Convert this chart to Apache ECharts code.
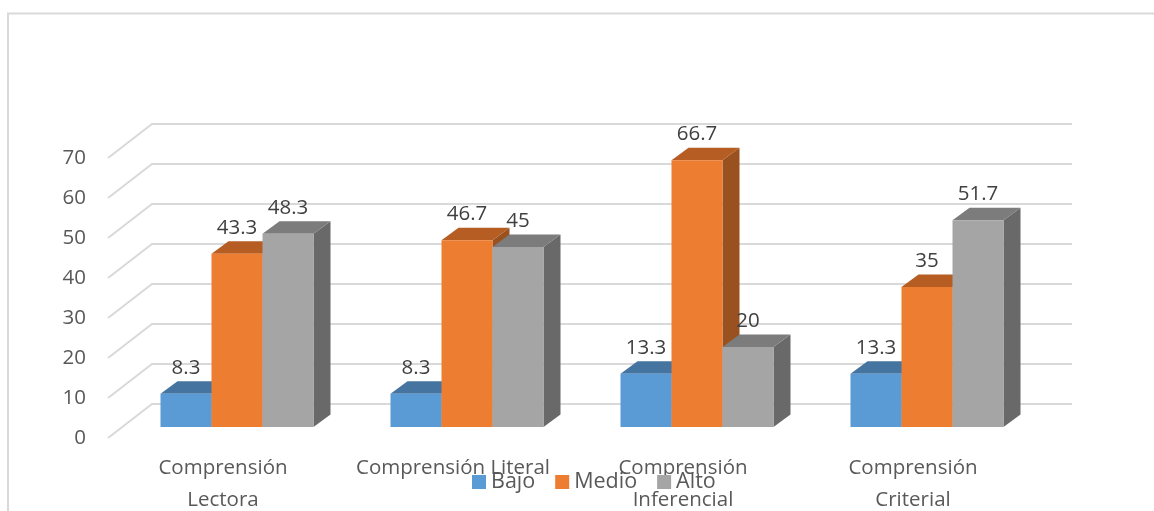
<!DOCTYPE html>
<html>
<head>
<meta charset="utf-8">
<style>html,body{margin:0;padding:0;background:#fff}#c{width:1154px;height:511px}</style>
<script src="https://cdn.jsdelivr.net/npm/echarts@6/dist/echarts.min.js"></script>
</head>
<body>
<div id="c"></div>
<script>
const categories = ['Comprensión\nLectora', 'Comprensión Literal', 'Comprensión\nInferencial', 'Comprensión\nCriterial'];
const bajo = [8.3, 8.3, 13.3, 13.3];
const medio = [43.3, 46.7, 66.7, 35];
const alto = [48.3, 45, 20, 51.7];
const yTicks = [0, 10, 20, 30, 40, 50, 60, 70];

const FONT = '"Open Sans", sans-serif';
const WALL = { dx: 44, dy: -34 };
const PLANE = { dx: 14, dy: -11 };
const DEPTH = { dx: 17, dy: -12.5 };
const BAR_W = 51;

function barSeries(name, values, idx, front, top, side) {
  return {
    name, type: 'custom', coordinateSystem: 'cartesian2d', z: 3 + idx,
    itemStyle: { color: front }, silent: true,
    data: values.map((v, i) => [i, v]),
    encode: { x: 0, y: 1 },
    renderItem(params, api) {
      const p = api.coord([api.value(0), api.value(1)]);
      const b = api.coord([api.value(0), 0]);
      const x0 = p[0] + PLANE.dx + (idx - 1.5) * BAR_W;
      const x1 = x0 + BAR_W;
      const yt = p[1] + PLANE.dy, yb = b[1] + PLANE.dy;
      const d = DEPTH;
      return { type: 'group', children: [
        { type: 'polygon', shape: { points: [[x1, yt], [x1 + d.dx, yt + d.dy], [x1 + d.dx, yb + d.dy], [x1, yb]] }, style: { fill: side } },
        { type: 'polygon', shape: { points: [[x0, yt], [x0 + d.dx, yt + d.dy], [x1 + d.dx, yt + d.dy], [x1, yt]] }, style: { fill: top } },
        { type: 'rect', shape: { x: x0, y: yt, width: BAR_W, height: yb - yt }, style: { fill: front } },
        { type: 'text', z2: 50, style: { text: String(api.value(1)), x: (x0 + x1) / 2, y: yt - 26, align: 'center', verticalAlign: 'middle', fill: '#404040', fontSize: 20.5, fontFamily: FONT } }
      ] };
    }
  };
}

const gridSeries = {
  name: 'grid', type: 'custom', coordinateSystem: 'cartesian2d', z: 1, silent: true,
  data: yTicks.map(t => [0, t]),
  encode: { x: 0, y: 1 },
  renderItem(params, api) {
    const cs = params.coordSys;
    const y = api.coord([0, api.value(1)])[1];
    const x0 = cs.x, x1 = cs.x + cs.width;
    const st = { stroke: '#d9d9d9', lineWidth: 2, fill: 'none' };
    return { type: 'polyline', shape: { points: [[x0, y], [x0 + WALL.dx, y + WALL.dy], [x1 + WALL.dx, y + WALL.dy]] }, style: st };
  }
};

const chart = echarts.init(document.getElementById('c'), null, { renderer: 'canvas' });
chart.setOption({
  animation: false,
  backgroundColor: '#fff',
  grid: { left: 108, top: 158, width: 920, height: 280, outerBoundsMode: 'none' },
  xAxis: { type: 'category', data: categories, axisLine: { show: false }, axisTick: { show: false }, splitLine: { show: false },
    axisLabel: { interval: 0, margin: 14, fontSize: 20.5, lineHeight: 32, color: '#595959', fontFamily: FONT, hideOverlap: false } },
  yAxis: { type: 'value', min: 0, max: 70, interval: 10, axisLine: { show: false }, axisTick: { show: false }, splitLine: { show: false },
    axisLabel: { margin: 22, fontSize: 20.5, color: '#595959', fontFamily: FONT } },
  legend: { data: ['Bajo', 'Medio', 'Alto'], left: 472, top: 471, padding: 0, icon: 'rect', itemWidth: 14, itemHeight: 14, itemGap: 20,
    textStyle: { fontSize: 21.5, color: '#595959', fontFamily: FONT } },
  graphic: [
    { type: 'polyline', z: 0, silent: true, shape: { points: [[8, 511], [8, 13.5], [1154, 13.5]] }, style: { stroke: '#d9d9d9', lineWidth: 2, fill: 'none' } }
  ],
  series: [
    gridSeries,
    barSeries('Bajo', bajo, 0, '#5B9BD5', '#44749F', '#3A6793'),
    barSeries('Medio', medio, 1, '#ED7D31', '#B65D23', '#9A5120'),
    barSeries('Alto', alto, 2, '#A5A5A5', '#7C7C7C', '#696969')
  ]
});
</script>
</body>
</html>
